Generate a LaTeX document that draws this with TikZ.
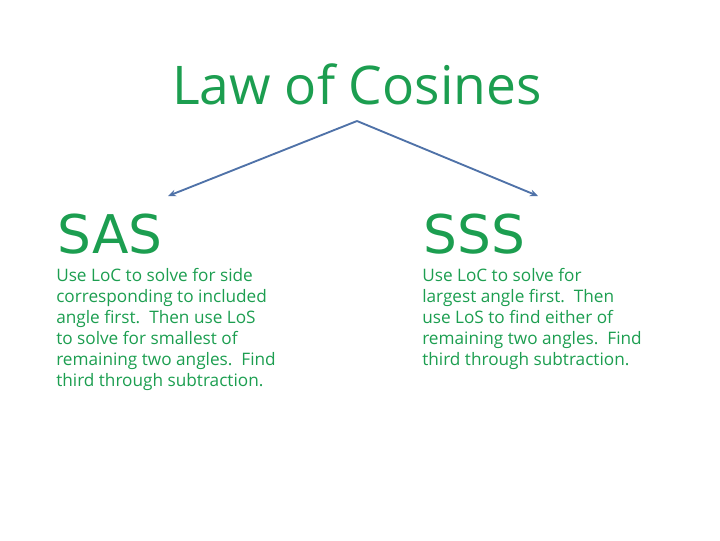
\documentclass[tikz,border=0pt]{standalone}
\usepackage{fontspec}
\setmainfont{Open Sans}
\newfontfamily\headfont{DejaVu Sans}
\usetikzlibrary{arrows.meta}
\definecolor{txtgreen}{RGB}{28,158,80}
\definecolor{arrowblue}{RGB}{79,114,168}
\tikzset{
  titletext/.style={font=\fontsize{40}{48}\selectfont, text=txtgreen, inner sep=0pt, anchor=base},
  casehead/.style={font=\headfont\fontsize{40}{48}\selectfont, text=txtgreen, inner sep=0pt, anchor=base west},
  bodytext/.style={font=\fontsize{12.9}{15.75}\selectfont, text=txtgreen, inner sep=0pt, anchor=north west, align=left},
  branch/.style={draw=arrowblue, line width=1.4pt, -{Stealth[length=6pt,width=5pt]}}
}
\begin{document}
\begin{tikzpicture}[x=0.75pt,y=-0.75pt]
\useasboundingbox (0,0) rectangle (720,540);
\node[titletext] (title) at (357,104) {Law of Cosines};
\coordinate (apex) at (357,121);
\node[casehead] (sas) at (57,253) {SAS};
\node[casehead] (sss) at (423,253) {SSS};
\coordinate (sastip) at (168,196);
\coordinate (ssstip) at (538,196);
\draw[branch] (apex) -- (sastip);
\draw[branch] (apex) -- (ssstip);
\node[bodytext] (sasbody) at (56,268) {Use LoC to solve for side\\corresponding to included\\angle first.\ \ Then use LoS\\to solve for smallest of\\remaining two angles.\ \ Find\\third through subtraction.};
\node[bodytext] (sssbody) at (422,268) {Use LoC to solve for\\largest angle first.\ \ Then\\use LoS to find either of\\remaining two angles.\ \ Find\\third through subtraction.};
\end{tikzpicture}
\end{document}
